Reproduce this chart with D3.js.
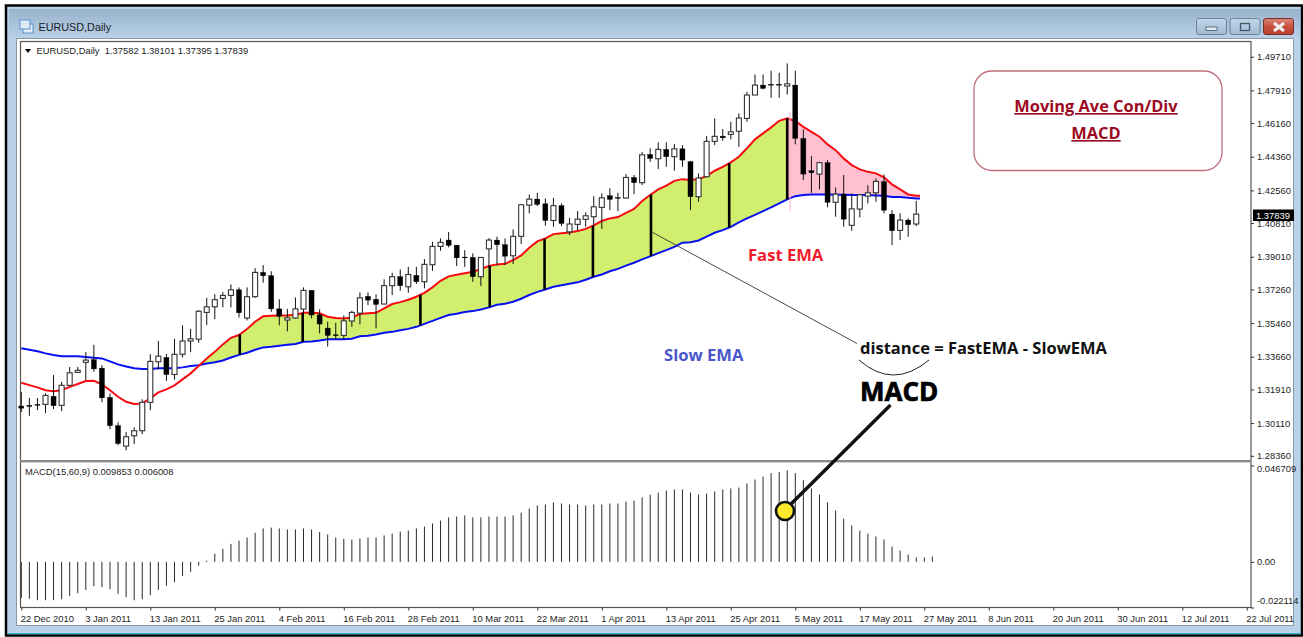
<!DOCTYPE html>
<html><head><meta charset="utf-8">
<style>html,body{margin:0;padding:0;background:#fff}svg{display:block}
.ui{font-family:"Liberation Sans",Arial,sans-serif;font-size:9.4px;fill:#1c1c1c}
.note{font-family:"Open Sans","Noto Sans",sans-serif;font-weight:700}
</style>
<script src="https://cdnjs.cloudflare.com/ajax/libs/d3/7.8.5/d3.min.js"></script>
</head><body><svg id="c" width="1303" height="637"></svg>
<script>
const opens=[1.3102,1.3106,1.3111,1.3111,1.3154,1.3106,1.3213,1.3282,1.3336,1.3350,1.3305,1.3148,1.2997,1.2888,1.2943,1.2970,1.3122,1.3339,1.3362,1.3271,1.3379,1.3450,1.3460,1.3603,1.3633,1.3678,1.3694,1.3724,1.3573,1.3687,1.3817,1.3799,1.3622,1.3562,1.3573,1.3621,1.3721,1.3590,1.3519,1.3483,1.3480,1.3557,1.3599,1.3689,1.3673,1.3648,1.3746,1.3794,1.3740,1.3801,1.3767,1.3858,1.3956,1.3990,1.3963,1.3899,1.3897,1.3794,1.3943,1.3990,1.3965,1.3906,1.4010,1.4177,1.4209,1.4184,1.4095,1.4174,1.4034,1.4074,1.4101,1.4115,1.4165,1.4227,1.4218,1.4215,1.4325,1.4297,1.4448,1.4425,1.4475,1.4436,1.4478,1.4409,1.4222,1.4329,1.4518,1.4546,1.4555,1.4572,1.4641,1.4766,1.4819,1.4823,1.4823,1.4814,1.4819,1.4534,1.4361,1.4343,1.4404,1.4192,1.4236,1.4069,1.4156,1.4225,1.4243,1.4302,1.4129,1.4042,1.4097,1.4076];
const highs=[1.3177,1.3146,1.3145,1.3171,1.3268,1.3232,1.3311,1.3311,1.3391,1.3430,1.3321,1.3170,1.3015,1.2963,1.2988,1.3138,1.3380,1.3451,1.3380,1.3462,1.3534,1.3515,1.3615,1.3681,1.3701,1.3712,1.3753,1.3737,1.3737,1.3840,1.3856,1.3823,1.3673,1.3622,1.3683,1.3737,1.3721,1.3619,1.3553,1.3548,1.3587,1.3612,1.3710,1.3710,1.3699,1.3780,1.3815,1.3833,1.3847,1.3847,1.3888,1.3981,1.3999,1.4033,1.3963,1.3936,1.3919,1.3897,1.4001,1.4008,1.3999,1.4047,1.4181,1.4234,1.4243,1.4213,1.4216,1.4186,1.4109,1.4145,1.4138,1.4225,1.4240,1.4267,1.4243,1.4343,1.4338,1.4462,1.4481,1.4513,1.4513,1.4504,1.4498,1.4414,1.4347,1.4546,1.4641,1.4584,1.4623,1.4668,1.4783,1.4876,1.4876,1.4896,1.4885,1.4935,1.4896,1.4582,1.4439,1.4409,1.4418,1.4272,1.4338,1.4240,1.4236,1.4283,1.4320,1.4341,1.4150,1.4133,1.4106,1.4200];
const lows=[1.3070,1.3050,1.3080,1.3064,1.3086,1.3075,1.3211,1.3280,1.3241,1.3285,1.3122,1.2979,1.2893,1.2865,1.2899,1.2952,1.3080,1.3298,1.3237,1.3243,1.3362,1.3391,1.3441,1.3535,1.3567,1.3630,1.3630,1.3576,1.3560,1.3681,1.3762,1.3606,1.3534,1.3502,1.3569,1.3589,1.3571,1.3491,1.3421,1.3459,1.3460,1.3526,1.3539,1.3642,1.3518,1.3646,1.3696,1.3719,1.3708,1.3755,1.3732,1.3826,1.3933,1.3951,1.3851,1.3847,1.3767,1.3744,1.3847,1.3856,1.3856,1.3862,1.3969,1.4133,1.4172,1.4067,1.4061,1.4065,1.4017,1.4042,1.4061,1.4070,1.4050,1.4150,1.4144,1.4213,1.4236,1.4284,1.4409,1.4370,1.4382,1.4361,1.4382,1.4150,1.4195,1.4325,1.4498,1.4521,1.4529,1.4489,1.4623,1.4766,1.4796,1.4751,1.4751,1.4769,1.4502,1.4311,1.4243,1.4261,1.4165,1.4115,1.4061,1.4040,1.4111,1.4186,1.4195,1.4133,1.3963,1.3990,1.4008,1.4065];
const closes=[1.3091,1.3100,1.3106,1.3159,1.3104,1.3213,1.3280,1.3293,1.3348,1.3301,1.3146,1.2997,1.2902,1.2938,1.2970,1.3122,1.3341,1.3369,1.3271,1.3379,1.3450,1.3462,1.3609,1.3633,1.3671,1.3694,1.3724,1.3601,1.3687,1.3817,1.3799,1.3622,1.3583,1.3574,1.3622,1.3721,1.3589,1.3541,1.3480,1.3480,1.3558,1.3603,1.3681,1.3669,1.3646,1.3746,1.3794,1.3746,1.3806,1.3767,1.3860,1.3956,1.3978,1.3962,1.3895,1.3895,1.3794,1.3897,1.3990,1.3965,1.3904,1.4010,1.4179,1.4209,1.4181,1.4095,1.4174,1.4079,1.4076,1.4102,1.4120,1.4168,1.4216,1.4208,1.4215,1.4325,1.4297,1.4446,1.4427,1.4475,1.4436,1.4478,1.4418,1.4222,1.4322,1.4518,1.4545,1.4537,1.4569,1.4643,1.4766,1.4819,1.4802,1.4819,1.4819,1.4826,1.4534,1.4343,1.4350,1.4404,1.4192,1.4236,1.4102,1.4157,1.4232,1.4243,1.4304,1.4150,1.4040,1.4097,1.4072,1.4129];
const fastEMA=[1.3227,1.3214,1.3202,1.3187,1.3182,1.3187,1.3205,1.3220,1.3236,1.3237,1.3218,1.3187,1.3152,1.3125,1.3113,1.3116,1.3143,1.3175,1.3191,1.3213,1.3245,1.3277,1.3316,1.3357,1.3392,1.3432,1.3467,1.3482,1.3514,1.3553,1.3582,1.3585,1.3587,1.3587,1.3590,1.3601,1.3601,1.3598,1.3580,1.3573,1.3571,1.3576,1.3594,1.3598,1.3601,1.3625,1.3648,1.3658,1.3671,1.3687,1.3708,1.3737,1.3772,1.3796,1.3804,1.3813,1.3820,1.3835,1.3851,1.3860,1.3863,1.3883,1.3908,1.3949,1.3983,1.3999,1.4022,1.4027,1.4031,1.4038,1.4050,1.4069,1.4092,1.4106,1.4113,1.4136,1.4157,1.4199,1.4231,1.4261,1.4281,1.4307,1.4316,1.4311,1.4316,1.4332,1.4361,1.4382,1.4406,1.4436,1.4481,1.4529,1.4561,1.4593,1.4628,1.4641,1.4627,1.4596,1.4569,1.4543,1.4502,1.4471,1.4427,1.4391,1.4368,1.4355,1.4347,1.4325,1.4288,1.4261,1.4234,1.4227,1.4226];
const slowEMA=[1.3411,1.3403,1.3395,1.3384,1.3375,1.3368,1.3368,1.3368,1.3364,1.3360,1.3357,1.3341,1.3325,1.3314,1.3304,1.3301,1.3301,1.3304,1.3304,1.3304,1.3309,1.3316,1.3321,1.3330,1.3337,1.3346,1.3362,1.3376,1.3387,1.3403,1.3416,1.3419,1.3425,1.3430,1.3434,1.3446,1.3448,1.3453,1.3459,1.3460,1.3460,1.3462,1.3475,1.3478,1.3485,1.3494,1.3499,1.3508,1.3515,1.3526,1.3542,1.3558,1.3574,1.3589,1.3596,1.3605,1.3610,1.3619,1.3630,1.3644,1.3649,1.3660,1.3676,1.3696,1.3713,1.3726,1.3740,1.3748,1.3756,1.3764,1.3778,1.3794,1.3806,1.3823,1.3836,1.3853,1.3869,1.3887,1.3903,1.3920,1.3936,1.3954,1.3976,1.3979,1.3988,1.4008,1.4029,1.4043,1.4061,1.4085,1.4106,1.4125,1.4145,1.4165,1.4186,1.4208,1.4225,1.4231,1.4234,1.4234,1.4234,1.4232,1.4232,1.4231,1.4231,1.4231,1.4229,1.4227,1.4220,1.4220,1.4216,1.4213,1.4211];
const macd=[-0.0175,-0.0179,-0.0186,-0.0186,-0.0186,-0.0181,-0.0166,-0.0152,-0.0136,-0.0118,-0.0123,-0.0133,-0.0155,-0.0171,-0.0186,-0.0181,-0.0162,-0.0136,-0.0116,-0.0099,-0.0068,-0.0048,-0.0018,0.0006,0.0039,0.0063,0.0087,0.0103,0.0118,0.0141,0.0162,0.0166,0.0162,0.0157,0.0157,0.0162,0.0157,0.0145,0.0133,0.0118,0.0112,0.0108,0.0113,0.0118,0.0118,0.0128,0.0137,0.0147,0.0152,0.0162,0.0171,0.0186,0.0200,0.0215,0.0220,0.0225,0.0215,0.0215,0.0220,0.0220,0.0220,0.0225,0.0239,0.0259,0.0273,0.0278,0.0288,0.0283,0.0278,0.0278,0.0273,0.0278,0.0278,0.0283,0.0283,0.0292,0.0297,0.0312,0.0326,0.0336,0.0346,0.0351,0.0351,0.0336,0.0326,0.0331,0.0341,0.0351,0.0356,0.0360,0.0380,0.0399,0.0414,0.0430,0.0435,0.0444,0.0430,0.0396,0.0356,0.0326,0.0288,0.0249,0.0210,0.0176,0.0152,0.0137,0.0123,0.0108,0.0074,0.0055,0.0036,0.0021,0.0021,0.0026];
const distanceBars=[27.1,34.9,49.5,58.1,64.9,70.9,78.1,87.8,95];
const priceTicks=[1.4971,1.4791,1.4616,1.4436,1.4256,1.4081,1.3901,1.3726,1.3546,1.3366,1.3191,1.3011,1.2836];
const macdTicks=[0.046709,0,-0.022114];
const macdTickLabels=["0.046709","0.00","-0.022114"];
const dateLabels=["22 Dec 2010","3 Jan 2011","13 Jan 2011","25 Jan 2011","4 Feb 2011","16 Feb 2011","28 Feb 2011","10 Mar 2011","22 Mar 2011","1 Apr 2011","13 Apr 2011","25 Apr 2011","5 May 2011","17 May 2011","27 May 2011","8 Jun 2011","20 Jun 2011","30 Jun 2011","12 Jul 2011","22 Jul 2011"];
const chartLegend="EURUSD,Daily  1.37582 1.38101 1.37395 1.37839";
const macdLegend="MACD(15,60,9) 0.009853 0.006008";
const lastPrice="1.37839";

const svg=d3.select("#c");
const defs=svg.append("defs");
const g1=defs.append("linearGradient").attr("id","tb").attr("x2",0).attr("y2",1);
g1.append("stop").attr("offset",0).attr("stop-color","#9ab3cd");g1.append("stop").attr("offset",1).attr("stop-color","#b9d2ea");
const g2=defs.append("linearGradient").attr("id","cl").attr("x2",0).attr("y2",1);
g2.append("stop").attr("offset",0).attr("stop-color","#d98a7c");g2.append("stop").attr("offset",.5).attr("stop-color","#c9503c");g2.append("stop").attr("offset",1).attr("stop-color","#b8402f");
const g3=defs.append("linearGradient").attr("id","bt").attr("x2",0).attr("y2",1);
g3.append("stop").attr("offset",0).attr("stop-color","#c3d6e8");g3.append("stop").attr("offset",1).attr("stop-color","#a0bad4");

// window frame
svg.append("rect").attr("x",6).attr("y",5.5).attr("width",1296).attr("height",630).attr("fill","#b9d2ea").attr("stroke","#000").attr("stroke-width",2.5);
svg.append("rect").attr("x",9).attr("y",9).attr("width",1291).attr("height",30).attr("fill","url(#tb)");
svg.append("rect").attr("x",8).attr("y",633).attr("width",1293).attr("height",1.2).attr("fill","#35b6d8");
svg.append("rect").attr("x",16.5).attr("y",38.5).attr("width",1277).attr("height",587).attr("fill","#fff").attr("stroke","#8a99a8");
// window icon
svg.append("rect").attr("x",23).attr("y",24).attr("width",10).attr("height",9).attr("fill","#dfeaf7").attr("stroke","#5f93c9");
svg.append("rect").attr("x",20).attr("y",20).attr("width",10).attr("height",9).attr("fill","#dfeaf7").attr("stroke","#5f93c9");
svg.append("text").attr("x",38.5).attr("y",31).attr("font-family","Liberation Sans").attr("font-size",10.8).attr("fill","#1a1a1a").text("EURUSD,Daily");
// window buttons
[[1196.5,"url(#bt)"],[1230,"url(#bt)"],[1263.5,"url(#cl)"]].forEach(([bx,f])=>{
 svg.append("rect").attr("x",bx).attr("y",18.5).attr("width",30).attr("height",16).attr("rx",2.5).attr("fill",f).attr("stroke",bx>1260?"#7d2c22":"#6d8199");
});
svg.append("rect").attr("x",1206).attr("y",27).attr("width",11).attr("height",3.5).attr("fill","#e4eaf0").attr("stroke","#45566b").attr("stroke-width",.8);
svg.append("rect").attr("x",1240.5).attr("y",23.5).attr("width",9).attr("height",7).attr("fill","none").attr("stroke","#45566b").attr("stroke-width",1.3);
svg.append("path").attr("d","M1274 23L1284 31M1284 23L1274 31").attr("stroke","#f2f0ee").attr("stroke-width",3);

// scales
const x=d3.scaleLinear().domain([0,152]).range([21.3,1246.8]);
const y=d3.scaleLinear().domain([1.4971,1.2836]).range([56.7,455.8]);
const yM=d3.scaleLinear().domain([-0.022114,0.046709]).range([607.5,465.5]);
const idx=d3.range(fastEMA.length);
const candleIdx=d3.range(closes.length);
const fastAt=d3.scaleLinear().domain(idx).range(fastEMA);
const slowAt=d3.scaleLinear().domain(idx).range(slowEMA);

// panes
svg.append("rect").attr("x",20.5).attr("y",41.5).attr("width",1230.5).attr("height",566).attr("fill","#fff").attr("stroke","#555").attr("stroke-width",1.2);
defs.append("clipPath").attr("id","emaClip").append("rect").attr("x",20).attr("y",42).attr("width",900).attr("height",418);
const emaG=svg.append("g").attr("clip-path","url(#emaClip)");

// filled distance areas
const area=d3.area().x(d=>x(d.i)).y0(d=>y(d.s)).y1(d=>y(d.f));
const first=idx.find(i=>fastEMA[i]>slowEMA[i]);
const df0=fastEMA[first-1]-slowEMA[first-1],df1=fastEMA[first]-slowEMA[first];
const t=-df0/(df1-df0);
const crossV=slowEMA[first-1]+t*(slowEMA[first]-slowEMA[first-1]);
const pts=idx.map(i=>({i,f:fastEMA[i],s:slowEMA[i]}));
const peak=95;
emaG.append("path").datum([{i:first-1+t,f:crossV,s:crossV}].concat(pts.filter(d=>d.i>=first&&d.i<=peak))).attr("d",area).attr("fill","#d2ee6e");
emaG.append("path").datum(pts.filter(d=>d.i>=peak)).attr("d",area).attr("fill","#ffc0d2");
svg.append("line").attr("x1",x(peak)+2.7).attr("x2",x(peak)+2.7).attr("y1",y(1.4675)).attr("y2",y(1.4145)).attr("stroke","#ffb4cc").attr("stroke-width",1);

// candles
const cg=svg.append("g");
cg.selectAll("line").data(candleIdx).join("line").attr("x1",i=>x(i)).attr("x2",i=>x(i)).attr("y1",i=>y(highs[i])).attr("y2",i=>y(lows[i])).attr("stroke","#111").attr("stroke-width",1);
cg.selectAll("rect").data(candleIdx).join("rect")
 .attr("x",i=>x(i)-2.5).attr("width",5)
 .attr("y",i=>y(Math.max(opens[i],closes[i]))).attr("height",i=>Math.max(.8,Math.abs(y(opens[i])-y(closes[i]))))
 .attr("fill",i=>closes[i]>=opens[i]?"#fff":"#000")
 .attr("stroke",i=>closes[i]>=opens[i]?"#333":"#000").attr("stroke-width",i=>closes[i]>=opens[i]?1.1:.4);

// distance bars
svg.append("g").selectAll("line").data(distanceBars).join("line").attr("x1",i=>x(i)).attr("x2",i=>x(i)).attr("y1",i=>y(fastAt(i))).attr("y2",i=>y(slowAt(i))).attr("stroke","#000").attr("stroke-width",2.6);

// EMAs
const ln=s=>d3.line().x((d,i)=>x(i)).y(d=>y(d))(s);
emaG.append("path").attr("d",ln(slowEMA)).attr("fill","none").attr("stroke","#0610f0").attr("stroke-width",2);
emaG.append("path").attr("d",ln(fastEMA)).attr("fill","none").attr("stroke","#f80a12").attr("stroke-width",2);

// pane separator
svg.append("rect").attr("x",20).attr("y",460).attr("width",1231).attr("height",2.4).attr("fill","#8a8a8a");

// MACD
svg.append("g").selectAll("line").data(macd).join("line").attr("x1",(d,i)=>x(i)).attr("x2",(d,i)=>x(i)).attr("y1",yM(0)).attr("y2",d=>yM(d)).attr("stroke","#2a2a2a").attr("stroke-width",1);

// axes
const ax=d3.axisBottom(x).tickValues(dateLabels.map((d,i)=>i*8)).tickFormat((d,i)=>dateLabels[i]).tickSize(3).tickPadding(3);
const axG=svg.append("g").attr("transform","translate(0,607.5)").call(ax);
axG.select(".domain").remove();
axG.selectAll("line").attr("stroke","#333");
axG.selectAll("text").attr("class","ui").attr("text-anchor","start").attr("dx",-1).attr("dy","0.95em");
const ay=d3.axisRight(y).tickValues(priceTicks).tickFormat(d3.format(".5f")).tickSize(3).tickPadding(3);
const ayG=svg.append("g").attr("transform","translate(1251,0)").call(ay);
ayG.select(".domain").remove();
ayG.selectAll("line").attr("stroke","#333");
ayG.selectAll("text").attr("class","ui");
const am=d3.axisRight(yM).tickValues(macdTicks).tickFormat((d,i)=>macdTickLabels[i]).tickSize(3).tickPadding(3);
const amG=svg.append("g").attr("transform","translate(1251,0)").call(am);
amG.select(".domain").remove();
amG.selectAll("line").attr("stroke","#333");
amG.selectAll("text").attr("class","ui").attr("dy",(d,i)=>i==0?"0.65em":i==2?"-0.4em":"0.32em");

// price tag
svg.append("rect").attr("x",1253).attr("y",209.5).attr("width",41).attr("height",11.5).attr("fill","#000");
svg.append("text").attr("class","ui").attr("x",1256).attr("y",218.5).style("fill","#fff").text(lastPrice);

// legends
svg.append("path").attr("d","M25 49L31 49L28 53Z").attr("fill","#000");
svg.append("text").attr("class","ui").attr("x",36.5).attr("y",54).style("white-space","pre").text(chartLegend);
svg.append("text").attr("class","ui").attr("x",25).attr("y",474.5).text(macdLegend);

// title box
svg.append("rect").attr("x",974).attr("y",71).attr("width",248).attr("height",99.5).attr("rx",18).attr("fill","#fff").attr("stroke","#c0707c").attr("stroke-width",1.3);
svg.append("text").attr("class","note").attr("x",1096).attr("y",112).attr("text-anchor","middle").attr("font-size",16.4).attr("fill","#9c0a22").attr("text-decoration","underline").text("Moving Ave Con/Div");
svg.append("text").attr("class","note").attr("x",1096).attr("y",139).attr("text-anchor","middle").attr("font-size",16.4).attr("fill","#9c0a22").attr("text-decoration","underline").text("MACD");

// annotations
svg.append("text").attr("class","note").attr("x",748).attr("y",261).attr("font-size",16.6).attr("fill","#f01c2c").text("Fast EMA");
svg.append("text").attr("class","note").attr("x",664).attr("y",361).attr("font-size",16.6).attr("fill","#4a56cc").text("Slow EMA");
svg.append("line").attr("x1",651).attr("y1",231.5).attr("x2",857).attr("y2",343.5).attr("stroke","#333").attr("stroke-width",.9);
svg.append("text").attr("class","note").attr("x",860).attr("y",354).attr("font-size",16.5).attr("fill","#111").text("distance = FastEMA - SlowEMA");
svg.append("path").attr("d","M859 360Q893 390 929 360").attr("fill","none").attr("stroke","#222").attr("stroke-width",1);
svg.append("text").attr("class","note").attr("x",860).attr("y",401).attr("font-size",26).attr("font-weight",800).attr("fill","#000").style("stroke","#000").style("stroke-width",.7).text("MACD");
svg.append("line").attr("x1",785).attr("y1",510).attr("x2",890.5).attr("y2",405).attr("stroke","#111").attr("stroke-width",3.4);
svg.append("circle").attr("cx",785).attr("cy",511).attr("r",9).attr("fill","#ffe92a").attr("stroke","#111").attr("stroke-width",2.6);
</script></body></html>
